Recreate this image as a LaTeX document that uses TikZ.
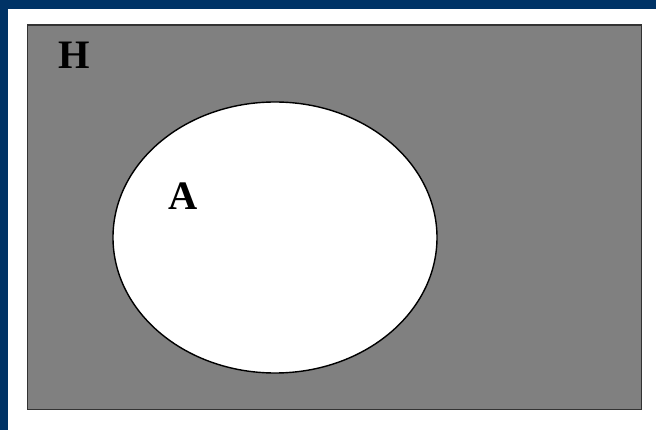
\documentclass[tikz,border=0pt]{standalone}
\usepackage{fontspec}
\setmainfont{Liberation Serif}
\usepackage{tikz}
\definecolor{frameblue}{RGB}{0,51,102}
\definecolor{setgray}{RGB}{128,128,128}

\begin{document}
\begin{tikzpicture}[font=\bfseries\fontsize{23}{26}\selectfont,line join=miter]
\useasboundingbox (0,0) rectangle (13.12,8.6);
\fill[white] (0,0) rectangle (13.12,8.6);
\fill[frameblue] (0,8.42) rectangle (13.12,8.6);
\fill[frameblue] (0,0) rectangle (0.16,8.6);
% universe H
\draw[fill=setgray,draw=black!80,line width=1.1pt] (0.55,0.41) rectangle (12.83,8.1);
% set A
\draw[fill=white,draw=black,line width=0.8pt] (5.5,3.85) ellipse [x radius=3.24,y radius=2.71];
\node (labH) at (1.48,7.5) {H};
\node (labA) at (3.66,4.68) {A};
\end{tikzpicture}
\end{document}
